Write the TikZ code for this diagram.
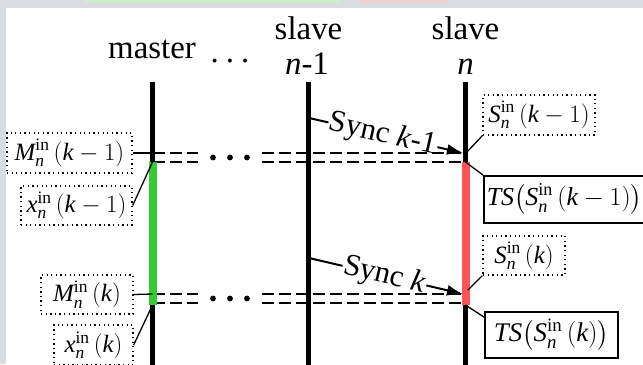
\RequirePackage{fix-cm}
\documentclass[tikz,border=0pt]{standalone}
\usepackage{amsmath}
\usepackage{fontspec}
\setmainfont{Liberation Serif}
\usetikzlibrary{arrows.meta,calc}
\definecolor{bggray}{RGB}{217,220,224}
\definecolor{barg}{RGB}{51,204,51}
\definecolor{barr}{RGB}{255,85,85}
\definecolor{stripg}{RGB}{205,238,205}
\definecolor{stripr}{RGB}{242,208,208}
\newcommand\hdrfont{\fontsize{33}{36}\selectfont}
\newcommand\lblfont{\fontsize{25}{28}\selectfont}
\newcommand\tsfont{\fontsize{26}{29}\selectfont}
\newcommand\tsbfont{\fontsize{27}{30}\selectfont}
\newcommand\syncfont{\fontsize{31}{34}\selectfont}
\newcommand\sinn[1]{\textit{#1}^{\mathrm{in}}_{\textit{n}}}
\begin{document}
\begin{tikzpicture}[x=1bp,y=-1bp,
  vline/.style={line width=5bp},
  bar/.style={line width=8bp},
  dline/.style={line width=1.3bp, dash pattern=on 12bp off 5bp},
  conn/.style={line width=1.3bp},
  syncline/.style={line width=2bp},
  dotbox/.style={draw, line width=1.3bp, dash pattern=on 1.3bp off 3.3bp, inner sep=0pt, font=\lblfont},
  solbox/.style={draw, line width=1.5bp, inner sep=0pt},
  hdr/.style={font=\hdrfont, inner sep=0pt, anchor=base},
  synctext/.style={font=\syncfont, sloped, inner sep=1bp}]
\useasboundingbox (0,0) rectangle (643,364);
\fill[bggray] (0,0) rectangle (643,364);
\fill[white] (6,8) rectangle (643,364);
\fill[stripg] (85,0) rectangle (341,3);
\fill[stripr] (359,0) rectangle (447,3);

% headers
\node[hdr] (mst) at (152,58) {master};
\node[hdr] (hdots) at (230,62) {.\hspace{7bp}.\hspace{7bp}.};
\node[hdr] (sl1) at (308.5,39) {slave};
\node[hdr] (sl1n) at (307,74) {\textit{n}-1};
\node[hdr] (sl2) at (465.5,39) {slave};
\node[hdr] (sl2n) at (465.5,74) {\textit{n}};

% coordinates
\coordinate (mT) at (152.5,82);  \coordinate (mB) at (152.5,368);
\coordinate (pT) at (308.5,82);  \coordinate (pB) at (308.5,368);
\coordinate (nT) at (465.5,82);  \coordinate (nB) at (465.5,368);
\coordinate (g1) at (152.5,162); \coordinate (g2) at (152.5,305);
\coordinate (r1) at (465.5,162); \coordinate (r2) at (465.5,305);

% dashed double lines
\foreach \yy in {153,162,294,303}{
  \draw[dline] (152.5,\yy) -- (198,\yy);
  \draw[dline] (262,\yy) -- (465,\yy);
}
\foreach \yy in {157.5,298.5}{
  \foreach \xx in {213,230,247}{
    \fill (\xx,\yy) circle (2.9);
  }
}

% vertical lines
\draw[vline] (mT) -- (mB);
\draw[vline] (pT) -- (pB);
\draw[vline] (nT) -- (nB);
\draw[bar, barg] (g1) -- (g2);
\draw[bar, barr] (r1) -- (r2);

% label boxes
\node[dotbox, minimum width=125bp, minimum height=40bp] (M1) at (69.5,153) {$\sinn{M}\,(\textit{k}-1)$};
\node[dotbox, minimum width=111bp, minimum height=39bp] (X1) at (76.5,205.5) {$\sinn{x}\,(\textit{k}-1)$};
\node[dotbox, minimum width=92bp, minimum height=39bp] (M2) at (87,294.5) {$\sinn{M}\,(\textit{k})$};
\node[dotbox, minimum width=79bp, minimum height=40bp] (X2) at (93.5,345) {$\sinn{x}\,(\textit{k})$};
\node[dotbox, minimum width=112bp, minimum height=40bp] (S1) at (539,115) {$\sinn{S}\,(\textit{k}-1)$};
\node[dotbox, minimum width=82bp, minimum height=39bp] (S2) at (524,255.5) {$\sinn{S}\,(\textit{k})$};
\node[solbox, font=\tsfont, anchor=north west, minimum height=47bp, inner xsep=3bp] (T1) at (483,175) {$\textit{TS}\bigl(\sinn{S}\,(\textit{k}-1)\bigr)$};
\node[solbox, font=\tsbfont, minimum width=133bp, minimum height=46bp] (T2) at (551.5,335) {$\textit{TS}\bigl(\sinn{S}\,(\textit{k})\bigr)$};

% connectors to the lines
\coordinate (a1) at (152.5,153);
\coordinate (a2) at (152.5,294);
\coordinate (t1) at (466,153);
\coordinate (q2) at (468,290);
\draw[conn] (M1.east) -- (a1);
\draw[conn] (X1.east) -- (g1);
\draw[conn] (M2.east) -- (a2);
\draw[conn] (X2.east) -- (g2);
\draw[conn] (S1.south west) -- (t1);
\draw[conn] (r1) -- (T1.north west);
\draw[conn] (S2.south west) -- (q2);
\draw[conn] (r2) -- ($(T2.north west)+(0,6)$);

% sync arrows
\coordinate (s1a) at (309,118); \coordinate (s1b) at (463,153);
\coordinate (s2a) at (309,258); \coordinate (s2b) at (463,294);
\path (s1a) -- node[synctext, pos=0.48] (sy1) {Sync \textit{k}-1} (s1b);
\path (s2a) -- node[synctext, pos=0.49] (sy2) {Sync \textit{k}} (s2b);
\draw[syncline] (s1a) -- (sy1.west);
\draw[syncline, -{Latex[length=16bp,width=11bp]}] (sy1.east) -- (s1b);
\draw[syncline] (s2a) -- (sy2.west);
\draw[syncline, -{Latex[length=16bp,width=11bp]}] (sy2.east) -- (s2b);
\end{tikzpicture}
\end{document}
